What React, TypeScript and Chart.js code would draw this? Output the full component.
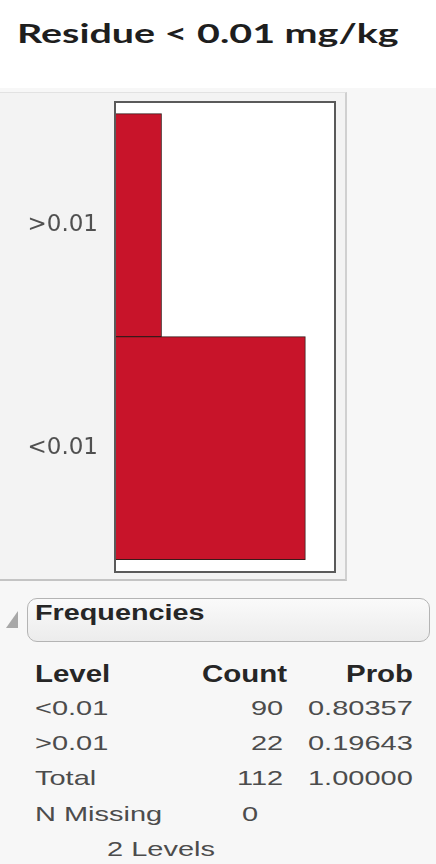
import React, { useEffect, useLayoutEffect, useRef, useState } from 'react';
import { Chart, registerables } from 'chart.js';

Chart.register(...registerables);

// ---- data ----
const titleText = 'Residue < 0.01 mg/kg';
const levels = ['<0.01', '>0.01'];
const counts = [90, 22];
const probs = ['0.80357', '0.19643'];
const totalCount = '112';
const totalProb = '1.00000';
const nMissing = '0';
const levelsNote = '2 Levels';
const xMax = 104;
const yMin = -0.555;
const yMax = 1.552;

type TextProps = {
  text: string;
  x: number;
  baseline: number;
  size: number;
  right?: number; // if given with x as left: fit width
  anchor?: 'left' | 'right';
  sx?: number;
  weight?: number;
  family?: string;
  color?: string;
};

function Txt({ text, x, baseline, size, right, anchor = 'left', sx = 1, weight = 400, family = '"Liberation Sans", Arial, sans-serif', color = '#4a4a4a' }: TextProps) {
  const inner = useRef<HTMLSpanElement>(null);
  const mark = useRef<HTMLSpanElement>(null);
  const [geo, setGeo] = useState({ sx: sx, off: size * 0.85, w: 0 });
  useLayoutEffect(() => {
    const measure = () => {
      if (!inner.current || !mark.current) return;
      const w = inner.current.offsetWidth;
      const off = mark.current.offsetTop;
      const s = right !== undefined && w > 0 ? (right - x) / w : sx;
      setGeo({ sx: s, off, w });
    };
    measure();
    const f = (document as any).fonts;
    if (f && f.ready) f.ready.then(measure);
  }, [text, x, right, size, weight, family, sx]);
  const left = anchor === 'right' ? x - geo.w * geo.sx : x;
  return (
    <div
      style={{
        position: 'absolute',
        left,
        top: baseline - geo.off,
        whiteSpace: 'nowrap',
        fontFamily: family,
        fontSize: size,
        fontWeight: weight,
        color,
        lineHeight: 1,
        transformOrigin: '0 0',
        transform: `scaleX(${geo.sx})`,
      }}
    >
      <span ref={inner} style={{ display: 'inline-block' }}>{text}</span>
      <span ref={mark} style={{ display: 'inline-block', width: 0, height: 0, verticalAlign: 'baseline' }} />
    </div>
  );
}

function Histogram() {
  const ref = useRef<HTMLCanvasElement>(null);
  useEffect(() => {
    if (!ref.current) return;
    const boxPlugin = {
      id: 'plotBox',
      beforeDraw(chart: any) {
        const { ctx, chartArea: a } = chart;
        ctx.save();
        ctx.fillStyle = '#ffffff';
        ctx.fillRect(a.left, a.top, a.right - a.left, a.bottom - a.top);
        ctx.restore();
      },
      afterDraw(chart: any) {
        const { ctx, chartArea: a } = chart;
        ctx.save();
        ctx.strokeStyle = '#5a5a5a';
        ctx.lineWidth = 2;
        ctx.strokeRect(a.left, a.top, a.right - a.left, a.bottom - a.top);
        ctx.restore();
      },
    };
    const chart = new Chart(ref.current, {
      type: 'bar',
      data: {
        datasets: [
          {
            data: levels.map((_, i) => ({ x: counts[i], y: i })),
            backgroundColor: '#c8142a',
            borderColor: '#3a1a1a',
            borderWidth: 1,
            barPercentage: 1,
            categoryPercentage: 1,
          },
        ],
      },
      options: {
        responsive: false,
        maintainAspectRatio: false,
        animation: false,
        indexAxis: 'y',
        layout: { padding: { left: 0, top: 9, right: 12, bottom: 8 } },
        plugins: {
          legend: { display: false },
          tooltip: { enabled: false },
          title: { display: false },
        },
        scales: {
          x: { type: 'linear', min: 0, max: xMax, display: false },
          y: {
            type: 'linear',
            offset: false,
            min: yMin,
            max: yMax,
            grid: { display: false, drawTicks: false, offset: false },
            border: { display: false },
            afterBuildTicks: (s: any) => {
              s.ticks = levels.map((_, i) => ({ value: i }));
            },
            afterFit: (s: any) => {
              s.width = 115;
              s.paddingTop = 0;
              s.paddingBottom = 0;
            },
            ticks: {
              callback: (v: any) => levels[v] ?? '',
              font: { family: '"DejaVu Sans", sans-serif', size: 23 },
              color: '#505050',
              padding: 17,
            },
          },
        },
      },
      plugins: [boxPlugin],
    } as any);
    return () => chart.destroy();
  }, []);
  return <canvas ref={ref} width={347} height={487} style={{ position: 'absolute', left: 0, top: 93, display: 'block' }} />;
}

export default function App() {
  const dataColor = '#4c4c4c';
  const headColor = '#262626';
  const ds = 1.38; // horizontal stretch of data text
  const hs = 1.28; // horizontal stretch of header text
  return (
    <div style={{ position: 'fixed', left: 0, top: 0, width: 436, height: 864, overflow: 'hidden', background: '#ffffff' }}>
      <div style={{ position: 'absolute', left: 0, top: 88, width: 436, height: 776, background: '#f7f7f7' }} />
      <div
        style={{
          position: 'absolute',
          left: 0,
          top: 92,
          width: 345,
          height: 486,
          background: '#f3f3f3',
          borderTop: '1px solid #e2e2e2',
          borderRight: '2px solid #d0d0d0',
          borderBottom: '2px solid #c4c4c4',
        }}
      />
      <Txt text={titleText} x={17} right={398} baseline={43} size={27} weight={700} family="Lato, 'Open Sans', sans-serif" color="#1e1e1e" />
      <Histogram />

      <svg style={{ position: 'absolute', left: 0, top: 600 }} width={24} height={40}>
        <polygon points="18,11 18,28 6,28" fill="#a8a8a8" />
      </svg>
      <div
        style={{
          position: 'absolute',
          left: 27,
          top: 598,
          width: 401,
          height: 42,
          borderRadius: 10,
          border: '1.5px solid #b4b4b4',
          background: 'linear-gradient(#fafafa, #ececec)',
        }}
      />
      <Txt text="Frequencies" x={35} right={205} baseline={620} size={22} weight={700} color={headColor} />

      <Txt text="Level" x={35} baseline={682} size={23} sx={hs} weight={700} color={headColor} />
      <Txt text="Count" x={286} anchor="right" baseline={682} size={23} sx={hs} weight={700} color={headColor} />
      <Txt text="Prob" x={413} anchor="right" baseline={682} size={23} sx={hs} weight={700} color={headColor} />

      <Txt text={levels[0]} x={35} baseline={715} size={21} sx={ds} color={dataColor} />
      <Txt text={String(counts[0])} x={283} anchor="right" baseline={715} size={21} sx={ds} color={dataColor} />
      <Txt text={probs[0]} x={413} anchor="right" baseline={715} size={21} sx={ds} color={dataColor} />

      <Txt text={levels[1]} x={35} baseline={750} size={21} sx={ds} color={dataColor} />
      <Txt text={String(counts[1])} x={283} anchor="right" baseline={750} size={21} sx={ds} color={dataColor} />
      <Txt text={probs[1]} x={413} anchor="right" baseline={750} size={21} sx={ds} color={dataColor} />

      <Txt text="Total" x={35} baseline={785} size={21} sx={ds} color={dataColor} />
      <Txt text={totalCount} x={283} anchor="right" baseline={785} size={21} sx={ds} color={dataColor} />
      <Txt text={totalProb} x={413} anchor="right" baseline={785} size={21} sx={ds} color={dataColor} />

      <Txt text="N Missing" x={35} baseline={821} size={21} sx={ds} color={dataColor} />
      <Txt text={nMissing} x={242} baseline={821} size={21} sx={ds} color={dataColor} />
      <Txt text={levelsNote} x={107} baseline={856} size={21} sx={ds} color={dataColor} />
    </div>
  );
}
